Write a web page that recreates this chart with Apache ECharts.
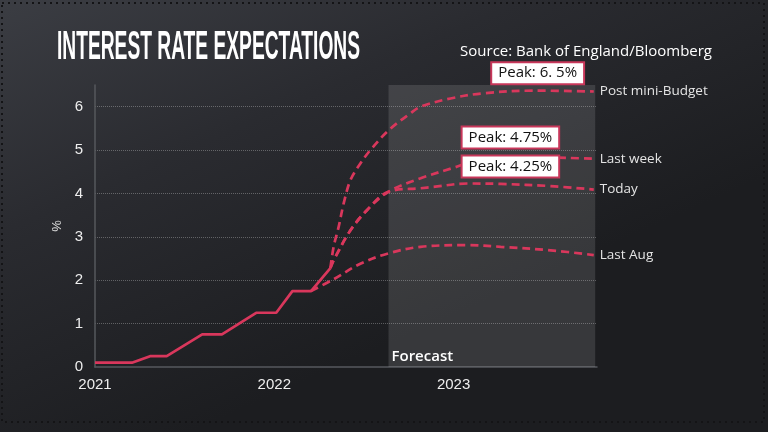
<!DOCTYPE html>
<html><head><meta charset="utf-8">
<script src="https://cdn.jsdelivr.net/npm/echarts@6/dist/echarts.min.js"></script>
<style>html,body{margin:0;padding:0;background:#2a2b30}#c{width:768px;height:432px}</style>
</head><body><div id="c"></div>
<script>
// ---- data ----
const yearTicks = [2021, 2022, 2023];
const histX = [2021.000, 2021.206, 2021.307, 2021.400, 2021.598, 2021.708, 2021.899, 2022.011, 2022.101, 2022.205, 2022.313];
const histY = [0.1, 0.1, 0.25, 0.25, 0.75, 0.75, 1.25, 1.25, 1.75, 1.75, 2.28];
const postX = [2022.313, 2022.331, 2022.359, 2022.387, 2022.425, 2022.480, 2022.536, 2022.639, 2022.760, 2022.816, 2022.983, 2023.168, 2023.447, 2023.782];
const postY = [2.28, 2.77, 3.23, 3.77, 4.31, 4.69, 5.0, 5.46, 5.85, 6.0, 6.19, 6.31, 6.37, 6.35];
const lastWeekX = [2022.313, 2022.331, 2022.425, 2022.518, 2022.637, 2022.816, 2023.021, 2023.188, 2023.447, 2023.782];
const lastWeekY = [2.28, 2.46, 3.15, 3.62, 4.04, 4.35, 4.62, 4.85, 4.84, 4.8];
const todayX = [2022.313, 2022.331, 2022.425, 2022.518, 2022.637, 2022.816, 2022.888, 2023.077, 2023.263, 2023.542, 2023.782];
const todayY = [2.28, 2.46, 3.15, 3.62, 4.04, 4.12, 4.15, 4.23, 4.22, 4.17, 4.09];
const lastAugX = [2022.205, 2022.330, 2022.480, 2022.637, 2022.816, 2023.077, 2023.263, 2023.542, 2023.782];
const lastAugY = [1.75, 2.02, 2.38, 2.62, 2.77, 2.81, 2.77, 2.69, 2.58];
const seriesNames = ['Post mini-Budget', 'Last week', 'Today', 'Last Aug'];
const forecastRange = [2022.637, 2023.79];
const forecastLabel = 'Forecast';
const peakLabels = ['Peak: 6. 5%', 'Peak: 4.75%', 'Peak: 4.25%'];
const peakX = [2023.469, 2023.317, 2023.317];
const peakY = [6.45, 5.29, 4.62];
const titleText = 'INTEREST RATE EXPECTATIONS';
const sourceText = 'Source: Bank of England/Bloomberg';

// ---- build ----
const RED = '#d9375c';
const zip = (xs, ys) => xs.map((x, i) => [x, ys[i]]);
const chart = echarts.init(document.getElementById('c'), null, {renderer: 'canvas'});

function measure(text, font) {
  const c = document.createElement('canvas').getContext('2d');
  c.font = font; return c.measureText(text).width;
}
const titleFont = 'bold 40px "Liberation Sans Narrow", "Liberation Sans", sans-serif';
const titleScale = 303 / measure(titleText, titleFont);

const dashed = (name, xs, ys) => ({
  name, type: 'line', data: zip(xs, ys), smooth: 0.35, symbol: 'none',
  lineStyle: {color: RED, width: 2.7, type: [8, 5]},
  endLabel: {show: true, formatter: '{a}', color: '#e4e4e4', fontSize: 13.5,
    fontFamily: '"Open Sans", sans-serif', distance: 6},
  z: 3
});
const peakPoint = (i, dy) => ({
  coord: [peakX[i], peakY[i]], value: peakLabels[i],
  symbol: 'rect', symbolSize: 1, itemStyle: {color: 'rgba(0,0,0,0)'},
  label: {show: true, position: 'inside', formatter: peakLabels[i], color: '#111', offset: [0, dy || 0],
    fontSize: 15, fontFamily: '"Open Sans", sans-serif', backgroundColor: '#fff',
    borderColor: '#c8375a', borderWidth: 2, padding: [3, 6, 2, 6]}
});

const option = {
  animation: false,
  backgroundColor: {type: 'linear', x: 0, y: 0, x2: 0.25, y2: 1,
    colorStops: [{offset: 0, color: '#3b3d43'}, {offset: 0.45, color: '#2a2b30'}, {offset: 1, color: '#1c1d20'}]},
  grid: {left: 95, right: 171, top: 85, bottom: 65},
  xAxis: {type: 'value', min: 2021, max: 2023.8, interval: 1,
    axisLine: {lineStyle: {color: '#56585d', width: 1.5}}, axisTick: {show: false}, splitLine: {show: false},
    axisLabel: {color: '#eeeeee', fontSize: 15, fontFamily: '"Liberation Sans", Arial, sans-serif', margin: 10,
      formatter: v => yearTicks.includes(Math.round(v)) && Math.abs(v - Math.round(v)) < 1e-6 ? String(Math.round(v)) : ''}},
  yAxis: {type: 'value', min: 0, max: 6.5, interval: 1,
    name: '%', nameLocation: 'middle', nameGap: 30,
    nameTextStyle: {color: '#dddddd', fontSize: 13, fontFamily: '"Liberation Sans", sans-serif'},
    axisLine: {show: true, lineStyle: {color: '#56585d', width: 1.5}}, axisTick: {show: false},
    splitLine: {show: true, showMinLine: false, showMaxLine: false, lineStyle: {color: 'rgba(255,255,255,0.28)', type: 'dotted', width: 1}},
    axisLabel: {color: '#eeeeee', fontSize: 15, fontFamily: '"Liberation Sans", Arial, sans-serif', margin: 12,
      formatter: v => Number.isInteger(v) ? String(v) : ''}},
  graphic: [
    {type: 'rect', shape: {x: 2, y: 3, width: 762, height: 419}, silent: true,
      style: {fill: 'none', stroke: '#141416', lineWidth: 2, lineDash: [2, 4]}},
    {type: 'text', x: 57, y: 48, scaleX: titleScale, scaleY: 1,
      style: {text: titleText, font: titleFont, fill: '#ffffff', verticalAlign: 'middle'}},
    {type: 'text', x: 712, y: 52,
      style: {text: sourceText, font: '15px "Open Sans", sans-serif', fill: '#ffffff', align: 'right', verticalAlign: 'middle'}}
  ],
  series: [
    {name: 'hist', type: 'line', data: zip(histX, histY), symbol: 'none',
      lineStyle: {color: RED, width: 2.7}, z: 4,
      markArea: {silent: true, itemStyle: {color: 'rgba(255,255,255,0.12)'},
        label: {show: true, position: 'insideBottomLeft', formatter: forecastLabel, color: '#ffffff',
          fontSize: 15, fontWeight: 600, fontFamily: '"Open Sans", sans-serif', distance: 3},
        data: [[{xAxis: forecastRange[0]}, {xAxis: forecastRange[1]}]]}},
    Object.assign(dashed(seriesNames[0], postX, postY), {markPoint: {data: [peakPoint(0, -14)], z: 10}}),
    Object.assign(dashed(seriesNames[1], lastWeekX, lastWeekY), {markPoint: {data: [peakPoint(1)], z: 10}}),
    Object.assign(dashed(seriesNames[2], todayX, todayY), {markPoint: {data: [peakPoint(2)], z: 10}}),
    dashed(seriesNames[3], lastAugX, lastAugY)
  ]
};
chart.setOption(option);
</script></body></html>
